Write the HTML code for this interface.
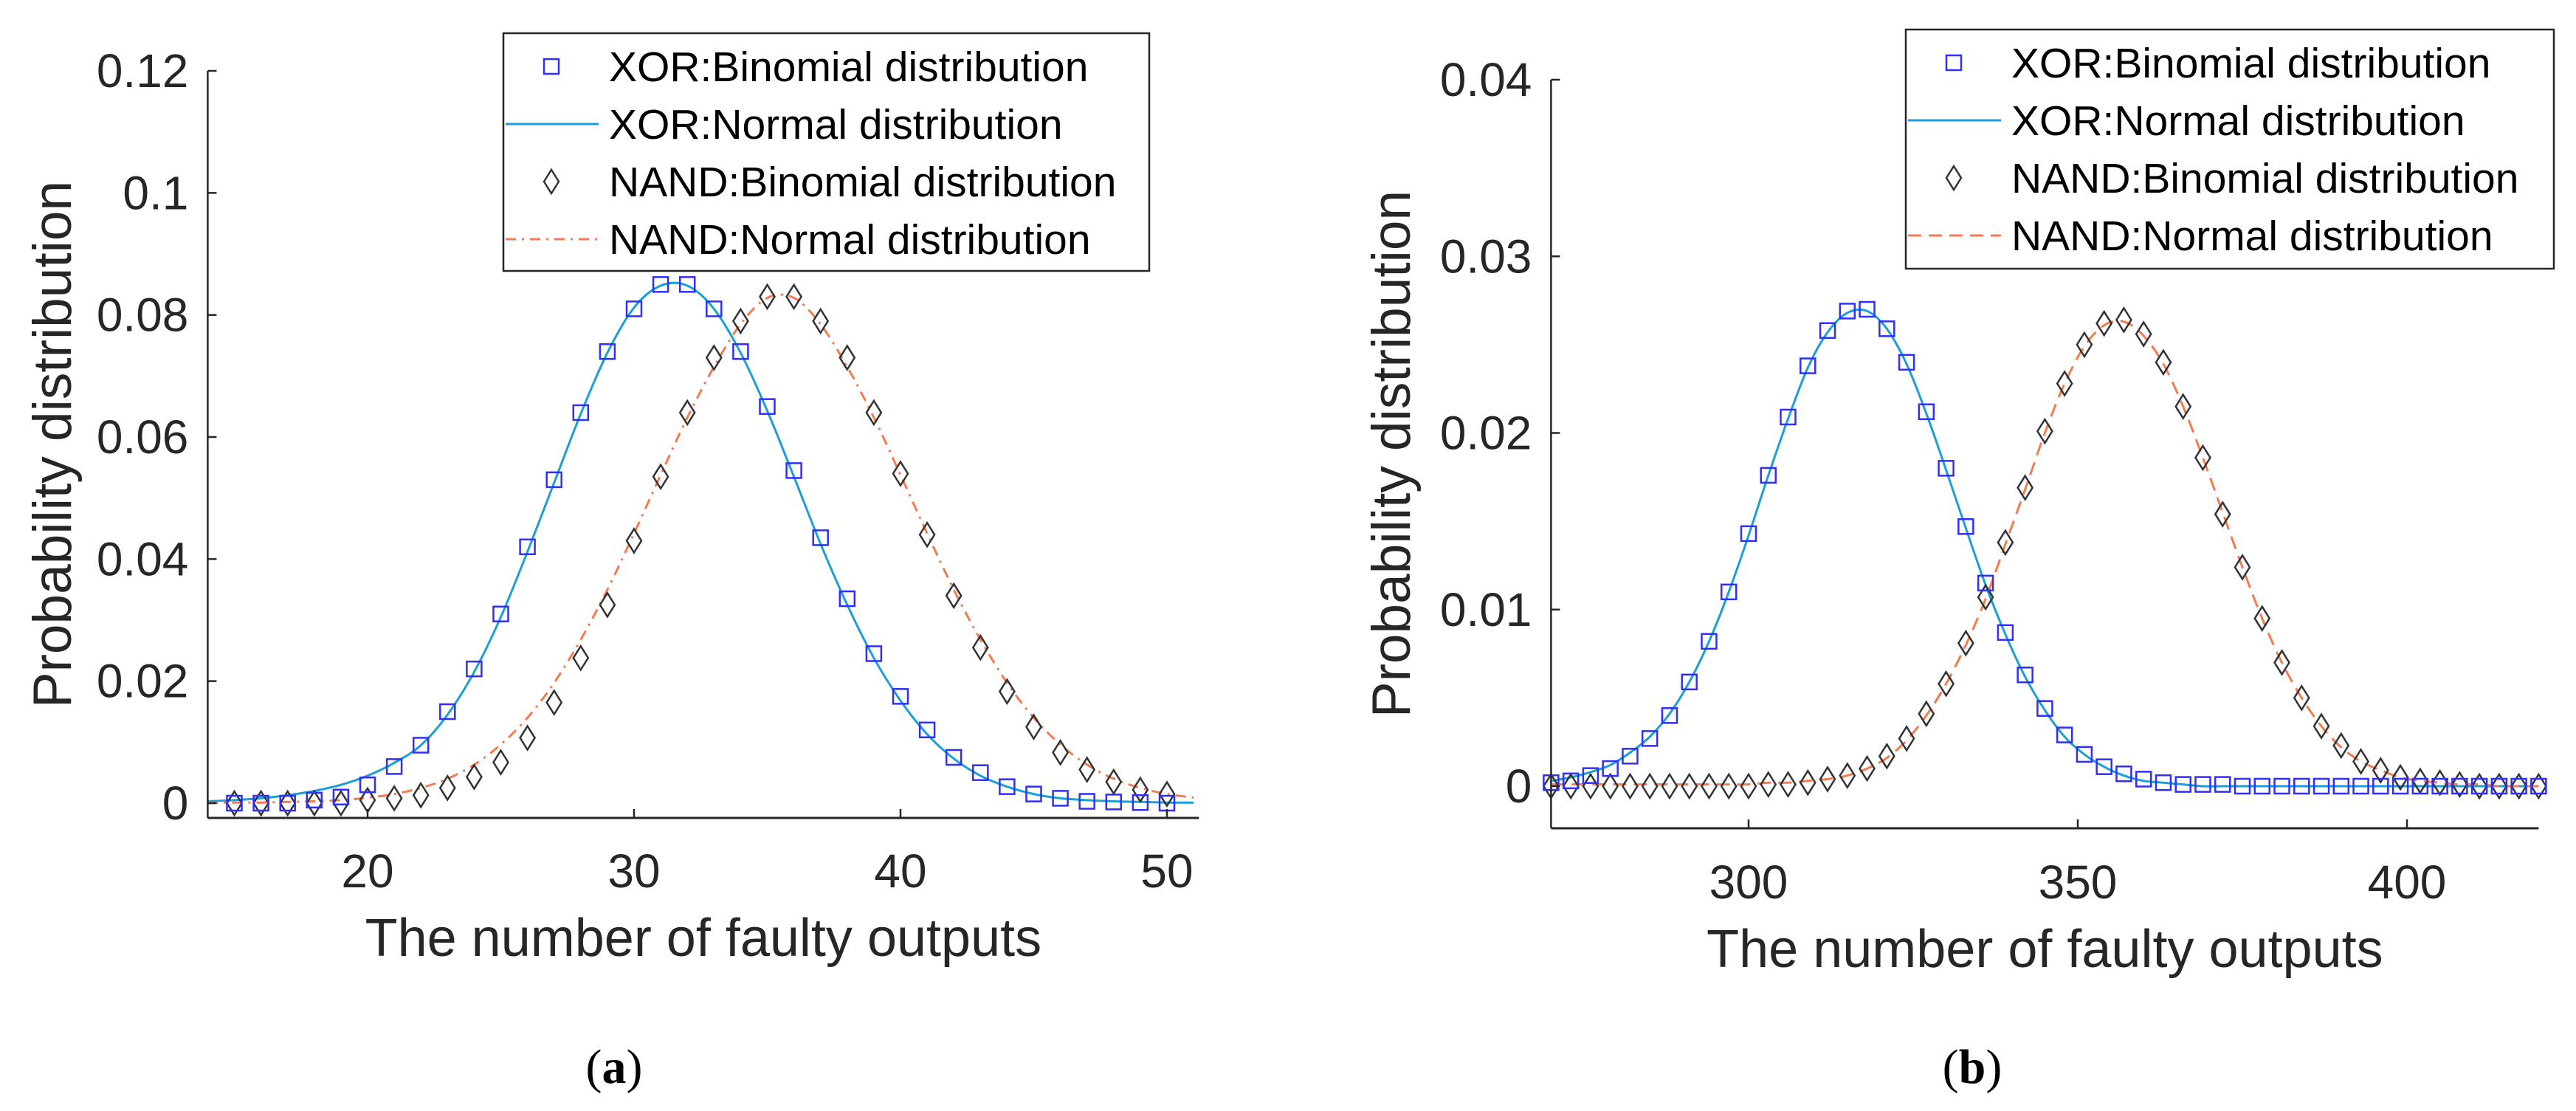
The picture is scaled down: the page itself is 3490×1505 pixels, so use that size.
<!DOCTYPE html>
<html><head><meta charset="utf-8">
<style>
html,body{margin:0;padding:0;background:#fff;}
svg{display:block;font-family:"Liberation Sans",sans-serif;}
</style></head>
<body>
<svg id="fig" width="3490" height="1505" viewBox="0 0 3490 1505"></svg>
<script>
// ---- Data panel (a) ----
const aX = [15,16,17,18,19,20,21,22,23,24,25,26,27,28,29,30,31,32,33,34,35,36,37,38,39,40,41,42,43,44,45,46,47,48,49,50];
const aXorBin = [0,0,0,0.0005,0.001,0.003,0.006,0.0095,0.015,0.022,0.031,0.042,0.053,0.064,0.074,0.081,0.085,0.085,0.081,0.074,0.065,0.0545,0.0435,0.0335,0.0245,0.0175,0.012,0.0075,0.005,0.0027,0.0015,0.0008,0.0003,0.0002,0.0001,0];
const aNandBin = [0,0,0,0,0,0.0005,0.0008,0.0013,0.0025,0.0043,0.0067,0.0107,0.0165,0.0238,0.0325,0.043,0.0535,0.064,0.073,0.079,0.083,0.083,0.079,0.073,0.064,0.054,0.044,0.034,0.0255,0.0183,0.0125,0.0083,0.0055,0.0035,0.0022,0.0015];
const aCurveX = [14,15,16,17,18,19,20,21,22,23,24,25,26,27,28,29,30,31,32,33,34,35,36,37,38,39,40,41,42,43,44,45,46,47,48,49,50,51];
const aXorNorm = [0.0003,0.0005,0.0008,0.0013,0.002,0.003,0.0045,0.0066,0.0095,0.0145,0.0215,0.0305,0.0412,0.0525,0.0638,0.0738,0.0812,0.0848,0.0848,0.081,0.0738,0.0643,0.0535,0.0425,0.0325,0.0238,0.0168,0.0113,0.0073,0.0045,0.0027,0.0015,0.0008,0.0005,0.0003,0.0002,0.0001,0.0001];
const aNandNorm = [0,0.0001,0.0001,0.0002,0.0003,0.0005,0.0009,0.0015,0.0025,0.004,0.0063,0.0096,0.014,0.0197,0.0268,0.035,0.0442,0.0538,0.0632,0.0715,0.0785,0.0828,0.0828,0.0785,0.0715,0.0632,0.0538,0.0442,0.035,0.0268,0.0197,0.014,0.0096,0.0063,0.004,0.0025,0.0015,0.0009];
const aXTicks = [20,30,40,50];
const aYTicks = [0,0.02,0.04,0.06,0.08,0.1,0.12];
const aYLabels = ["0","0.02","0.04","0.06","0.08","0.1","0.12"];
// ---- Data panel (b) ----
const bX = [270,273,276,279,282,285,288,291,294,297,300,303,306,309,312,315,318,321,324,327,330,333,336,339,342,345,348,351,354,357,360,363,366,369,372,375,378,381,384,387,390,393,396,399,402,405,408,411,414,417,420];
const bXorBin = [0.0002,0.0003,0.0006,0.001,0.0017,0.0027,0.004,0.0059,0.0082,0.011,0.0143,0.0176,0.0209,0.0238,0.0258,0.0269,0.027,0.0259,0.024,0.0212,0.018,0.0147,0.0115,0.0087,0.0063,0.0044,0.0029,0.0018,0.0011,0.0007,0.0004,0.0002,0.0001,0.0001,0.0001,0,0,0,0,0,0,0,0,0,0,0,0,0,0,0,0];
const bNandBin = [0,0,0,0,0,0,0,0,0,0,0,0.0001,0.0001,0.0002,0.0004,0.0006,0.001,0.0017,0.0027,0.0041,0.0058,0.0081,0.0107,0.0138,0.0169,0.0201,0.0228,0.025,0.0262,0.0264,0.0256,0.024,0.0215,0.0186,0.0154,0.0124,0.0095,0.007,0.005,0.0034,0.0023,0.0014,0.0009,0.0005,0.0003,0.0002,0.0001,0,0,0,0];
const bXorNorm = [0.0003,0.0005,0.0008,0.0012,0.0019,0.0028,0.0041,0.0059,0.0082,0.011,0.0142,0.0176,0.0208,0.0237,0.0257,0.0268,0.0269,0.0259,0.0239,0.0211,0.0179,0.0146,0.0114,0.0086,0.0062,0.0043,0.0028,0.0018,0.0011,0.0006,0.0003,0.0002,0.0001,0,0,0,0,0,0,0,0,0,0,0,0,0,0,0,0,0,0];
const bNandNorm = [0.0001,0.0001,0.0001,0.0001,0.0001,0.0001,0.0001,0.0001,0.0001,0.0001,0.0001,0.0002,0.0002,0.0003,0.0004,0.0006,0.001,0.0016,0.0026,0.004,0.0058,0.008,0.0106,0.0137,0.0168,0.02,0.0228,0.0249,0.0261,0.0263,0.0255,0.0239,0.0215,0.0186,0.0155,0.0124,0.0095,0.007,0.005,0.0034,0.0022,0.0014,0.0009,0.0005,0.0003,0.0002,0.0001,0.0001,0,0,0];
const bXTicks = [300,350,400];
const bYTicks = [0,0.01,0.02,0.03,0.04];
const bYLabels = ["0","0.01","0.02","0.03","0.04"];

const NS="http://www.w3.org/2000/svg";
const svg=document.getElementById('fig');
function mk(tag,attrs,parent){const e=document.createElementNS(NS,tag);for(const k in attrs)e.setAttribute(k,attrs[k]);(parent||svg).appendChild(e);return e;}

function smoothPath(pts){
  let d="M"+pts[0][0].toFixed(1)+","+pts[0][1].toFixed(1);
  for(let i=0;i<pts.length-1;i++){
    const p0=pts[i-1]||pts[i],p1=pts[i],p2=pts[i+1],p3=pts[i+2]||p2;
    const c1=[p1[0]+(p2[0]-p0[0])/6,p1[1]+(p2[1]-p0[1])/6];
    const c2=[p2[0]-(p3[0]-p1[0])/6,p2[1]-(p3[1]-p1[1])/6];
    d+=" C"+c1[0].toFixed(1)+","+c1[1].toFixed(1)+" "+c2[0].toFixed(1)+","+c2[1].toFixed(1)+" "+p2[0].toFixed(1)+","+p2[1].toFixed(1);
  }
  return d;
}

function panel(cfg){
  const g=mk('g',{});
  
  
  const sx=v=>cfg.px0+(v-cfg.x0)*(cfg.px1-cfg.px0)/(cfg.x1-cfg.x0);
  const sy=v=>cfg.py0+(v-cfg.y0)*(cfg.py1-cfg.py0)/(cfg.y1-cfg.y0);
  const L=sx(cfg.xmin),R=sx(cfg.xmax),B=cfg.axisB,T=sy(cfg.ymax);
  const xc=mk('path',{d:smoothPath(cfg.cx.map((x,i)=>[sx(x),sy(cfg.xorN[i])])),fill:'none',stroke:'#1a9fd8','stroke-width':3},g);
  
  
  const nc=mk('path',{d:smoothPath(cfg.cx.map((x,i)=>[sx(x),sy(cfg.nandN[i])])),fill:'none',stroke:'#f57a4e','stroke-width':3,'stroke-dasharray':cfg.dash},g);
  
  
  cfg.mx.forEach((x,i)=>{
    const cx=sx(x),cy=sy(cfg.nandB[i]);
    const d=mk('polygon',{points:`${cx},${cy-16} ${cx+10},${cy} ${cx},${cy+16} ${cx-10},${cy}`,fill:'none',stroke:'#333','stroke-width':2.5},g);
    
    
  });
  cfg.mx.forEach((x,i)=>{
    const cx=sx(x),cy=sy(cfg.xorB[i]);
    const s=mk('rect',{x:cx-10,y:cy-10,width:20,height:20,fill:'none',stroke:'#2f2ff5','stroke-width':2.5},g);
    
    
  });
  const ya=mk('line',{x1:L,y1:T,x2:L,y2:B,stroke:'#262626','stroke-width':2.5},g);
  
  
  const xa=mk('line',{x1:L,y1:B,x2:R,y2:B,stroke:'#262626','stroke-width':3},g);
  
  
  cfg.yt.forEach((v,i)=>{
    mk('line',{x1:L,y1:sy(v),x2:L+12,y2:sy(v),stroke:'#262626','stroke-width':2.5},g);
    const t=mk('text',{x:L-26,y:sy(v)+22,'text-anchor':'end','font-size':64,fill:'#262626'},g);
    t.textContent=cfg.yl[i];
    
    
  });
  cfg.xt.forEach(v=>{
    mk('line',{x1:sx(v),y1:B,x2:sx(v),y2:B-12,stroke:'#262626','stroke-width':2.5},g);
    const t=mk('text',{x:sx(v),y:cfg.xtb,'text-anchor':'middle','font-size':64,fill:'#262626'},g);
    t.textContent=String(v);
    
    
  });
  const xt=mk('text',{x:(L+R)/2,y:cfg.xtitleb,'text-anchor':'middle','font-size':72,fill:'#262626'},g);
  xt.textContent='The number of faulty outputs';
  
  
  const yt=mk('text',{x:0,y:0,'text-anchor':'middle','font-size':73,fill:'#262626',transform:`translate(${cfg.ytx},${(T+B)/2}) rotate(-90)`},g);
  yt.textContent='Probability distribution';
  
  
  const lg=mk('g',{},g);
  
  
  mk('rect',{x:cfg.lx,y:cfg.ly,width:cfg.lw,height:cfg.lh,fill:'#fff',stroke:'#262626','stroke-width':2.5},lg);
  const names=['XOR:Binomial distribution','XOR:Normal distribution','NAND:Binomial distribution','NAND:Normal distribution'];
  names.forEach((n,i)=>{
    const cy=cfg.ly+45+i*78;
    const mx=cfg.lx+65;
    if(i===0){mk('rect',{x:mx-10,y:cy-10,width:20,height:20,fill:'none',stroke:'#2f2ff5','stroke-width':2.5},lg);}
    if(i===1){mk('line',{x1:cfg.lx+3,y1:cy,x2:cfg.lx+129,y2:cy,stroke:'#1a9fd8','stroke-width':3},lg);}
    if(i===2){mk('polygon',{points:`${mx},${cy-16} ${mx+10},${cy} ${mx},${cy+16} ${mx-10},${cy}`,fill:'none',stroke:'#333','stroke-width':2.5},lg);}
    if(i===3){mk('line',{x1:cfg.lx+3,y1:cy,x2:cfg.lx+129,y2:cy,stroke:'#f57a4e','stroke-width':3,'stroke-dasharray':cfg.dash},lg);}
    const t=mk('text',{x:cfg.lx+143,y:cy+20,'font-size':57,fill:'#000'},lg);
    t.textContent=n;
    
    
  });
  const cap=mk('text',{x:cfg.capx,y:1467,'text-anchor':'middle','font-size':66,'font-family':'Liberation Serif, serif',fill:'#000'},g);
  cap.innerHTML='(<tspan font-weight="bold">'+cfg.cap+'</tspan>)';
  
  
}

panel({name:'panel-a',x0:20,x1:50,px0:498,px1:1581,y0:0,y1:0.12,py0:1088,py1:96,
  xmin:14,xmax:51.2,ymax:0.12,axisB:1108,xtb:1202,xtitleb:1295,
  mx:aX,xorB:aXorBin,nandB:aNandBin,cx:aCurveX,xorN:aXorNorm,nandN:aNandNorm,
  xt:aXTicks,yt:aYTicks,yl:aYLabels,ytx:96,dash:'14 8 3 8',
  lx:682,ly:45,lw:875,lh:322,cap:'a',capx:832});
panel({name:'panel-b',x0:300,x1:400,px0:2369,px1:3261,y0:0,y1:0.04,py0:1065,py1:108,
  xmin:270,xmax:420,ymax:0.04,axisB:1122,xtb:1217,xtitleb:1310,
  mx:bX,xorB:bXorBin,nandB:bNandBin,cx:bX,xorN:bXorNorm,nandN:bNandNorm,
  xt:bXTicks,yt:bYTicks,yl:bYLabels,ytx:1910,dash:'18 10',
  lx:2582,ly:40,lw:878,lh:324,cap:'b',capx:2672});
</script>
</body></html>
